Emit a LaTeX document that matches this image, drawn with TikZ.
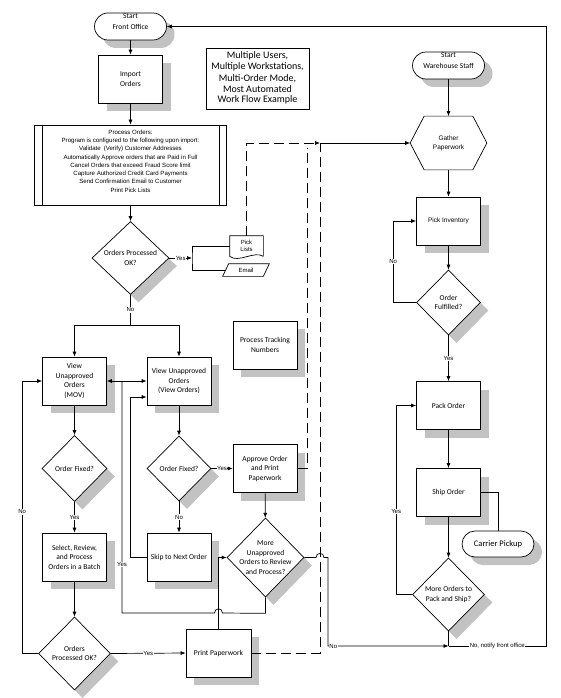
\documentclass[tikz,border=0pt]{standalone}
\usepackage{fontspec}
\setmainfont{Carlito}
\newfontfamily\arialfont{Liberation Sans}
\usetikzlibrary{arrows.meta,positioning,calc,shapes.geometric,shapes.misc,shadows}
\tikzset{boxshadow/.style={drop shadow={shadow xshift=8pt,shadow yshift=-8pt,fill=black!24,opacity=1}},
  proc/.style={draw,fill=white,boxshadow,minimum width=64pt,minimum height=48pt,inner sep=1pt,align=center,font=\fontsize{7.5}{9.5}\selectfont},
  term/.style={draw,fill=white,boxshadow,rounded rectangle,minimum width=72pt,minimum height=27pt,inner sep=0pt},
  dec/.style={draw,fill=white,boxshadow,diamond,inner sep=0pt},
  dtext/.style={align=center,font=\fontsize{7.5}{9.5}\selectfont},
  ttext/.style={align=center,font=\fontsize{7.5}{11}\selectfont},
  lbl/.style={fill=white,inner sep=0.6pt,font=\arialfont\fontsize{6}{7}\selectfont},
  flow/.style={->},
  dashline/.style={dash pattern=on 10pt off 5pt}}

\begin{document}
\begin{tikzpicture}[x=1pt, y=-1pt, line width=0.7pt, >={Latex[length=5pt,width=4pt]}]
        \useasboundingbox (0,0) rectangle (560,698);
        % front office side
        \node[term, label={[ttext,yshift=5]center:{Start\\Front Office}}] (sfo) at (130.5,26.5) {};
        \node[proc] (imp) at (130.5,79) {Import\\Orders};
        \node[draw, fill=white, minimum width=192pt, minimum height=80pt,
              label={[align=center,yshift=4,font=\arialfont\fontsize{6.1}{8.3}\selectfont]center:{Process Orders:\\Program is configured to the following upon import:\\Validate\enspace(Verify) Customer Addresses\\Automatically Approve orders that are Paid in Full\\Cancel Orders that exceed Fraud Score limit\\Capture Authorized Credit Card Payments\\Send Confirmation Email to Customer\\Print Pick Lists}}] (po) at (130.5,165) {};
        \draw ($(po.north west)+(8,0)$) -- ($(po.south west)+(8,0)$);
        \draw ($(po.north east)+(-8,0)$) -- ($(po.south east)+(-8,0)$);
        \node[dec, minimum width=77pt, minimum height=73pt, label={[dtext]center:{Orders Processed\\OK?}}] (opo) at (130.5,258) {};
        \node[draw, minimum width=103pt, minimum height=61pt, align=center, font=\fontsize{10}{11}\selectfont] (title) at (257.5,78.5) {\raisebox{3pt}{\shortstack{Multiple Users,\\Multiple Workstations,\\Multi-Order Mode,\\Most Automated\\Work Flow Example}}};

        % pick lists and email
        \node[minimum width=33pt, minimum height=20pt, inner sep=0pt, align=center, font=\arialfont\fontsize{6}{7}\selectfont] (pl) at (246.5,246) {Pick\\Lists};
        \draw (pl.south east) -- (pl.north east) -- (pl.north west) -- (pl.south west)
              .. controls ($(pl.south west)+(9,7)$) and ($(pl.south east)+(-9,-6)$) .. (pl.south east);
        \node[minimum width=40pt, minimum height=12pt, inner sep=0pt, font=\arialfont\fontsize{6}{7}\selectfont] (em) at (246,270) {Email};
        \draw ($(em.north west)+(3,0)$) -- ($(em.north east)+(3,0)$) -- ($(em.south east)+(-3,0)$) -- ($(em.south west)+(-3,0)$) -- cycle;
        \node[proc] (pt) at (265,345) {Process Tracking\\Numbers};

        % review columns
        \node[proc] (vmov) at (74.5,381) {View\\Unapproved\\Orders\\(MOV)};
        \node[proc] (vvo) at (179,381) {View Unapproved\\Orders\\(View Orders)};
        \node[dec, minimum width=65pt, minimum height=66pt, label={[dtext]center:Order Fixed?}] (ofl) at (74.5,468.5) {};
        \node[dec, minimum width=64pt, minimum height=65pt, label={[dtext]center:Order Fixed?}] (ofr) at (179,468.5) {};
        \node[proc] (ap) at (265,468.5) {Approve Order\\and Print\\Paperwork};
        \node[proc] (sel) at (74.5,557) {Select, Review,\\and Process\\Orders in a Batch};
        \node[proc] (skip) at (179,557) {Skip to Next Order};
        \node[dec, minimum width=77pt, minimum height=79pt, label={[dtext]center:{More\\Unapproved\\Orders to Review\\and Process?}}] (mu) at (265.5,557.5) {};
        \node[dec, minimum width=72pt, minimum height=73pt, label={[dtext]center:{Orders\\Processed OK?}}] (opb) at (74.5,653.5) {};
        \node[proc, minimum width=65pt] (pp) at (218.5,653) {Print Paperwork};

        % warehouse side
        \node[term, label={[ttext,yshift=5]center:{Start\\Warehouse Staff}}] (sws) at (448.5,65.5) {};
        \node[minimum width=76pt, minimum height=53pt, align=center, font=\arialfont\fontsize{6.5}{9}\selectfont] (gp) at (448.5,143) {Gather\\Paperwork};
        \draw (gp.west) -- ($(gp.north west)+(14,0)$) -- ($(gp.north east)+(-14,0)$) -- (gp.east)
              -- ($(gp.south east)+(-14,0)$) -- ($(gp.south west)+(14,0)$) -- cycle;
        \node[proc, font=\arialfont\fontsize{6.5}{8}\selectfont] (pi) at (448.5,221) {Pick Inventory};
        \node[dec, minimum width=64pt, minimum height=65pt, label={[dtext]center:{Order\\Fulfilled?}}] (of) at (448.5,302.5) {};
        \node[proc] (pk) at (448.5,405.5) {Pack Order};
        \node[proc] (so) at (448.5,492.5) {Ship Order};
        \node[term, minimum height=26pt, font=\fontsize{8.5}{10}\selectfont] (cp) at (498,544) {Carrier Pickup};
        \node[dec, minimum width=72pt, minimum height=73pt, label={[dtext]center:{More Orders to\\Pack and Ship?}}] (mo) at (448.5,594.5) {};

        \coordinate (br) at (192,258);
        \coordinate (split) at (130.5,325);
        \coordinate (jv) at (122,381);
        \coordinate (jg) at (320,143);
        \coordinate (jn) at (448.5,646);

        % connectors
        \draw[flow] (sfo) -- (imp);
        \draw[flow] (imp) -- (po);
        \draw[flow] (po) -- (opo);
        \draw[flow] (opo.east) -- node[lbl]{Yes} (br);
        \draw (pl.west) -| (br) |- (em.west);
        \draw (opo.south) -- node[lbl]{No} (split);
        \draw[flow] (split) -| (vmov.north);
        \draw[flow] (split) -| (vvo.north);
        \draw[flow] (vmov) -- (ofl);
        \draw[flow] (ofl) -- node[lbl]{Yes} (sel);
        \draw[flow] (sel) -- (opb);
        \draw[flow] (opb.east) -- node[lbl]{Yes} (pp.west);
        \draw[flow] (opb.west) -- ++(-16,0) |- node[lbl,pos=0.26]{No} (vmov.west);
        \draw[flow] (vvo) -- (ofr);
        \draw[flow] (ofr.east) -- node[lbl]{Yes} (ap.west);
        \draw[flow] (ofr.south) -- node[lbl]{No} (skip.north);
        \draw[flow] (ap) -- (mu);
        \draw[flow] (skip.west) -- ++(-16,0) |- ($(vvo.west)+(0,16)$);
        \draw (mu.south) -- ++(0,16) -- (222.5,613) .. controls (222.5,607.5) and (214.5,607.5) .. (214.5,613)
              -- (122,613) -- node[lbl,pos=0.21]{Yes} (jv);
        \draw[flow] (jv) -- (vmov.east);
        \draw[flow] (jv) -- (vvo.west);
        \draw[flow] (pp.north) |- (mu.west);
        \draw[flow] (mu.east) -- (316,557.5) .. controls (316,552) and (324,552) .. (324,557.5)
              -- (328,557.5) -- (328,646) node[lbl,right=0.5pt]{No} -- (jn);
        \draw[dashline,flow] (pl.north) |- (jg);
        \draw[dashline] (pp.east) -| (jg);
        \draw[dashline] (ap.east) -| (307,148);
        \draw[flow] (jg) -- (gp.west);
        \draw[flow] (sws) -- (gp);
        \draw[flow] (gp.south) -- (pi);
        \draw[flow] (pi) -- (of);
        \draw[flow] (of.west) -- ++(-23,0) |- node[lbl,pos=0.25]{No} (pi.west);
        \draw[flow] (of) -- node[lbl]{Yes} (pk);
        \draw[flow] (pk) -- (so);
        \draw (so.east) -| (cp.north);
        \draw[flow] (so) -- (mo);
        \draw[flow] (mo.west) -- ++(-16,0) |- node[lbl,pos=0.22]{Yes} (pk.west);
        \draw (mo.south) -- (jn);
        \draw[flow] (jn) -- node[lbl]{No, notify front office} (546,646) |- (sfo.east);
\end{tikzpicture}
\end{document}
